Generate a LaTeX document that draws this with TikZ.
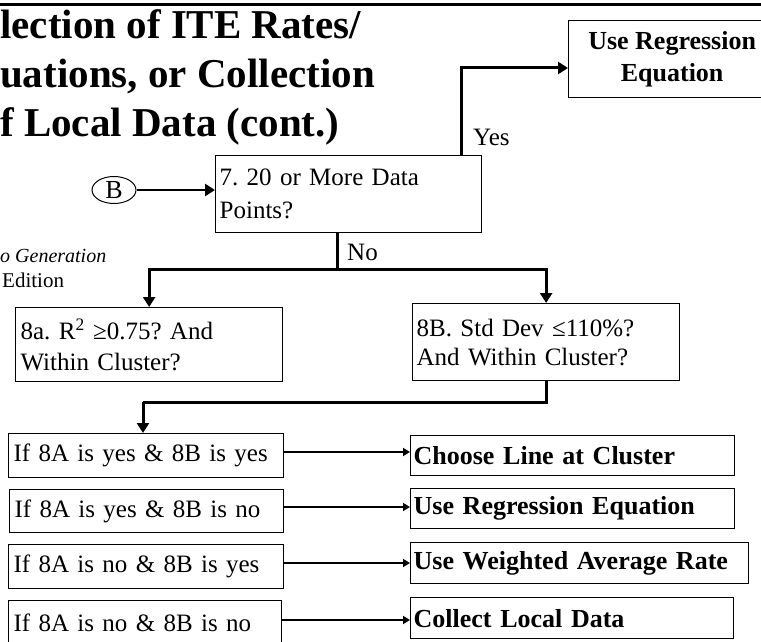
\documentclass[tikz,border=0pt]{standalone}
\usepackage{fontspec}
\setmainfont{Liberation Serif}
\usetikzlibrary{arrows.meta,positioning,shapes.geometric}
\frenchspacing
\begin{document}
\begin{tikzpicture}[x=1pt,y=-1pt,
  box/.style={draw, line width=1.3pt, anchor=north west, inner sep=0pt, font=\fontsize{25}{29}\selectfont},
  rbox/.style={box, font=\fontsize{26}{29}\selectfont\bfseries},
  titl/.style={anchor=base west, inner sep=0pt, font=\fontsize{41}{45}\selectfont\bfseries},
  thickarr/.style={line width=3pt, -{Triangle[length=10pt,width=12pt]}},
  thinarr/.style={line width=2pt, -{Triangle[length=7pt,width=8pt]}},
  lbl/.style={font=\fontsize{25}{29}\selectfont, inner sep=0pt}
]
\useasboundingbox (0,0) rectangle (761,642);
\draw[line width=3pt] (0,5) -- (761,5);
% title
\node[titl] (t1) at (0,39) {lection of ITE Rates/};
\node[titl] (t2) at (0,88) {uations, or Collection};
\node[titl] (t3) at (0,136) {f Local Data (cont.)};
\node[anchor=base west, inner sep=0pt, font=\fontsize{20}{22}\selectfont\itshape] (s1) at (0,262) {o Generation};
\node[anchor=base west, inner sep=0pt, font=\fontsize{21}{22}\selectfont] (s2) at (2,287) {Edition};
% boxes
\node[box, minimum width=207pt, minimum height=77pt, align=center, font=\fontsize{26}{32}\selectfont\bfseries] (ure) at (568,20) {Use Regression\\Equation};
\node[box, minimum width=266pt, minimum height=77pt, text width=258pt, align=left, font=\fontsize{25}{33}\selectfont] (q7) at (215,155) {7. 20 or More Data\\Points?};
\node[draw, ellipse, line width=1pt, minimum width=44pt, minimum height=27pt, inner sep=0pt, font=\fontsize{26}{26}\selectfont] (B) at (114,190) {B};
\node[box, minimum width=267pt, minimum height=74pt, text width=257pt, align=left, font=\fontsize{25}{31}\selectfont] (q8a) at (15,307) {8a. R\textsuperscript{2} ≥0.75? And\\Within Cluster?};
\node[box, minimum width=267pt, minimum height=77pt, text width=259pt, align=left, font=\fontsize{25}{29}\selectfont] (q8b) at (412,303) {8B. Std Dev ≤110\%?\\And Within Cluster?};
% conditions
\node[box, minimum width=275pt, minimum height=44pt, text width=265pt, align=left] (c1) at (8,433) {If 8A is yes \& 8B is yes};
\node[box, minimum width=274pt, minimum height=43pt, text width=264pt, align=left] (c2) at (9,489) {If 8A is yes \& 8B is no};
\node[box, minimum width=275pt, minimum height=44pt, text width=265pt, align=left] (c3) at (8,544) {If 8A is no \& 8B is yes};
\node[box, minimum width=273pt, minimum height=44pt, text width=263pt, align=left] (c4) at (8,600) {If 8A is no \& 8B is no};
% results
\node[rbox, minimum width=324pt, minimum height=40pt, text width=318pt, align=left] (r1) at (410,435) {Choose Line at Cluster};
\node[rbox, minimum width=324pt, minimum height=40pt, text width=318pt, align=left] (r2) at (410,488) {Use Regression Equation};
\node[rbox, minimum width=338pt, minimum height=41pt, text width=332pt, align=left] (r3) at (410,542) {Use Weighted Average Rate};
\node[rbox, minimum width=323pt, minimum height=41pt, text width=317pt, align=left] (r4) at (410,597) {Collect Local Data};
% connectors
\draw[thickarr, line width=2.5pt] (B.east) -- (q7.west |- B.east);
\coordinate (yesc) at (461,68);
\draw[thickarr] (q7.north -| yesc) -- (yesc) -- (ure.west |- yesc);
\node[lbl, anchor=base west] (yes) at (473,145) {Yes};
\coordinate (noj) at (337,269);
\draw[line width=3pt] (q7.south -| noj) -- (noj);
\draw[thickarr] (noj) -- (q8a.north |- noj) -- (q8a.north);
\draw[thickarr] (noj) -- (q8b.north |- noj) -- (q8b.north);
\node[lbl, anchor=base west] (no) at (347,260) {No};
\coordinate (mj) at (546,402);
\draw[line width=3pt] (q8b.south) -- (q8b.south |- mj) -- (143,402);
\draw[thickarr] (143,402) -- (c1.north -| 143,402);
\draw[thinarr] (c1.east |- 0,452) -- (r1.west |- 0,452);
\draw[thinarr] (c2.east |- 0,507) -- (r2.west |- 0,507);
\draw[thinarr] (c3.east |- 0,563) -- (r3.west |- 0,563);
\draw[thinarr] (c4.east |- 0,620) -- (r4.west |- 0,620);
\end{tikzpicture}
\end{document}
